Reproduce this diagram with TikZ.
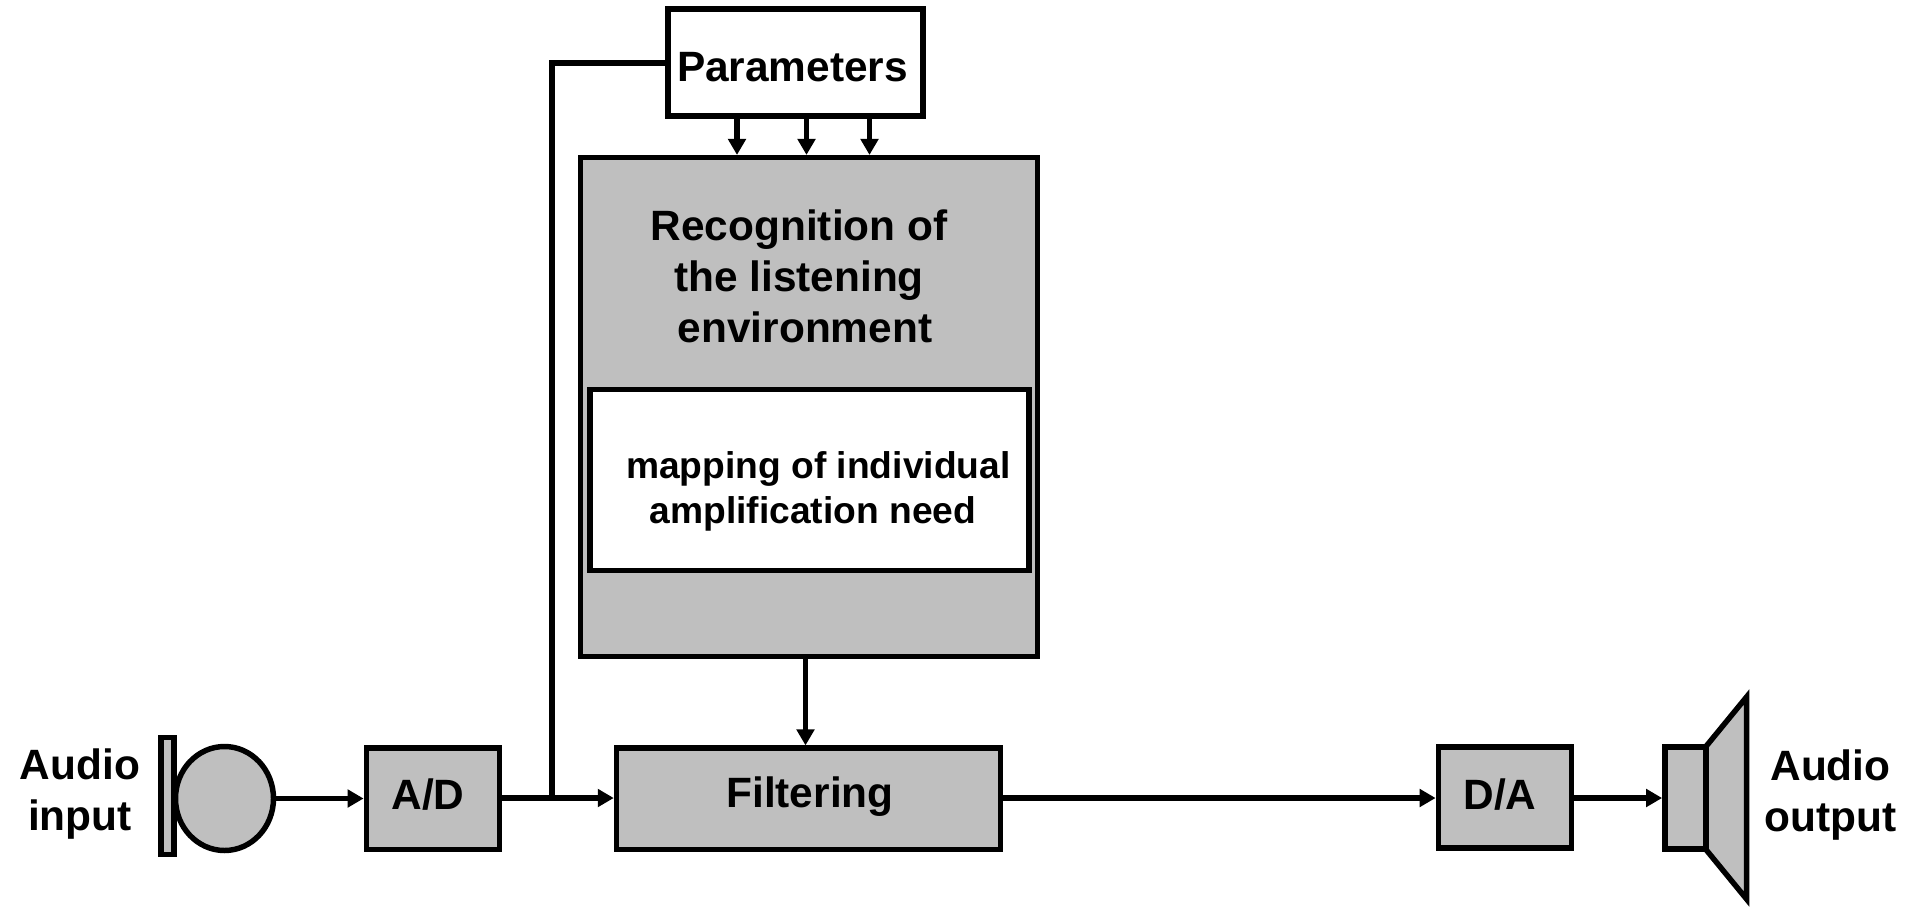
\documentclass[tikz,border=0pt]{standalone}
\usepackage{fontspec}
\setmainfont{Liberation Sans}
\usetikzlibrary{arrows.meta,shapes.geometric}
\definecolor{boxgray}{HTML}{BFBFBF}
\tikzset{
  graybox/.style={draw=black,fill=boxgray,rectangle,inner sep=0pt,font=\bigfont},
  whitebox/.style={draw=black,fill=white,rectangle,inner sep=0pt},
  label text/.style={inner sep=0pt,font=\bigfont,align=center},
  link/.style={draw=black,-{Triangle[length=12pt,width=13pt]}},
  plainlink/.style={draw=black},
}
\newcommand{\bigfont}{\fontsize{31.8pt}{38.25pt}\selectfont\bfseries}
\newcommand{\midfont}{\fontsize{27.9pt}{33.75pt}\selectfont\bfseries}
\begin{document}
\begin{tikzpicture}[x=0.75pt,y=-0.75pt,line width=4.1pt]
\useasboundingbox (0,0) rectangle (1905,907);
% boxes
\node[whitebox,minimum width=191pt,minimum height=80pt] (params) at (795.5,62.5) {};
\node[inner sep=0pt,font=\bigfont] (paramstext) at (792.5,67.5) {Parameters};
\node[graybox,minimum width=343pt,minimum height=374pt] (recog) at (809,407) {};
\node[whitebox,minimum width=329pt,minimum height=136pt] (mapbox) at (809.5,480) {};
\node[label text] (recogtext) at (799,276) {Recognition of\\the listening\\\hspace*{9pt}environment};
\node[inner sep=0pt,font=\midfont,align=center] (maptext) at (813,491) {\hspace*{8pt}mapping of individual\\amplification need};
\node[graybox,minimum width=100pt,minimum height=76pt] (ad) at (433,798.8) {};
\node[inner sep=0pt,font=\bigfont] (adtext) at (428,794.5) {A/D};
\node[graybox,minimum width=288pt,minimum height=76pt] (filter) at (808.5,798.8) {};
\node[inner sep=0pt,font=\bigfont] (filtertext) at (810,796.5) {Filtering};
\node[graybox,minimum width=100pt,minimum height=76pt] (da) at (1505,797.5) {};
\node[inner sep=0pt,font=\bigfont] (datext) at (1500,795) {D/A};
% microphone
\node[graybox,minimum width=10pt,minimum height=88pt] (micbar) at (167.5,796) {};
\node[draw=black,fill=boxgray,ellipse,inner sep=0pt,minimum width=73.5pt,minimum height=78pt] (mic) at (224.5,798.5) {};
% speaker
\draw[draw=black,fill=boxgray,line join=miter] (1705.5,747) coordinate (c1) -- (1746.5,697) coordinate (c2) -- (1746.5,899) coordinate (c3) -- (1705.5,849) coordinate (c4) -- cycle;
\node[graybox,minimum width=31pt,minimum height=76.5pt] (spk) at (1685.5,798) {};
% labels
\node[label text] (ain) at (80,794) {Audio\\input};
\node[label text] (aout) at (1830.5,795) {Audio\\output};
% connectors
\coordinate (junction) at (552,798);
\coordinate (corner) at (552,63);
\coordinate (p1) at (737,0);
\coordinate (p2) at (806.5,0);
\coordinate (p3) at (869.5,0);
\coordinate (p4) at (805.5,0);
\draw[link] (mic.east) -- (ad.west |- mic.east);
\draw[link] (ad.east |- junction) -- (filter.west |- junction);
\draw[link] (filter.east |- junction) -- (da.west |- junction);
\draw[link] (da.east |- junction) -- (spk.west |- junction);
\draw[link] (recog.south -| p4) -- (filter.north -| p4);
\draw[plainlink] (junction) -- (corner) -- (params.west |- corner);
\draw[link] (params.south -| p1) -- (recog.north -| p1);
\draw[link] (params.south -| p2) -- (recog.north -| p2);
\draw[link] (params.south -| p3) -- (recog.north -| p3);
\end{tikzpicture}
\end{document}
